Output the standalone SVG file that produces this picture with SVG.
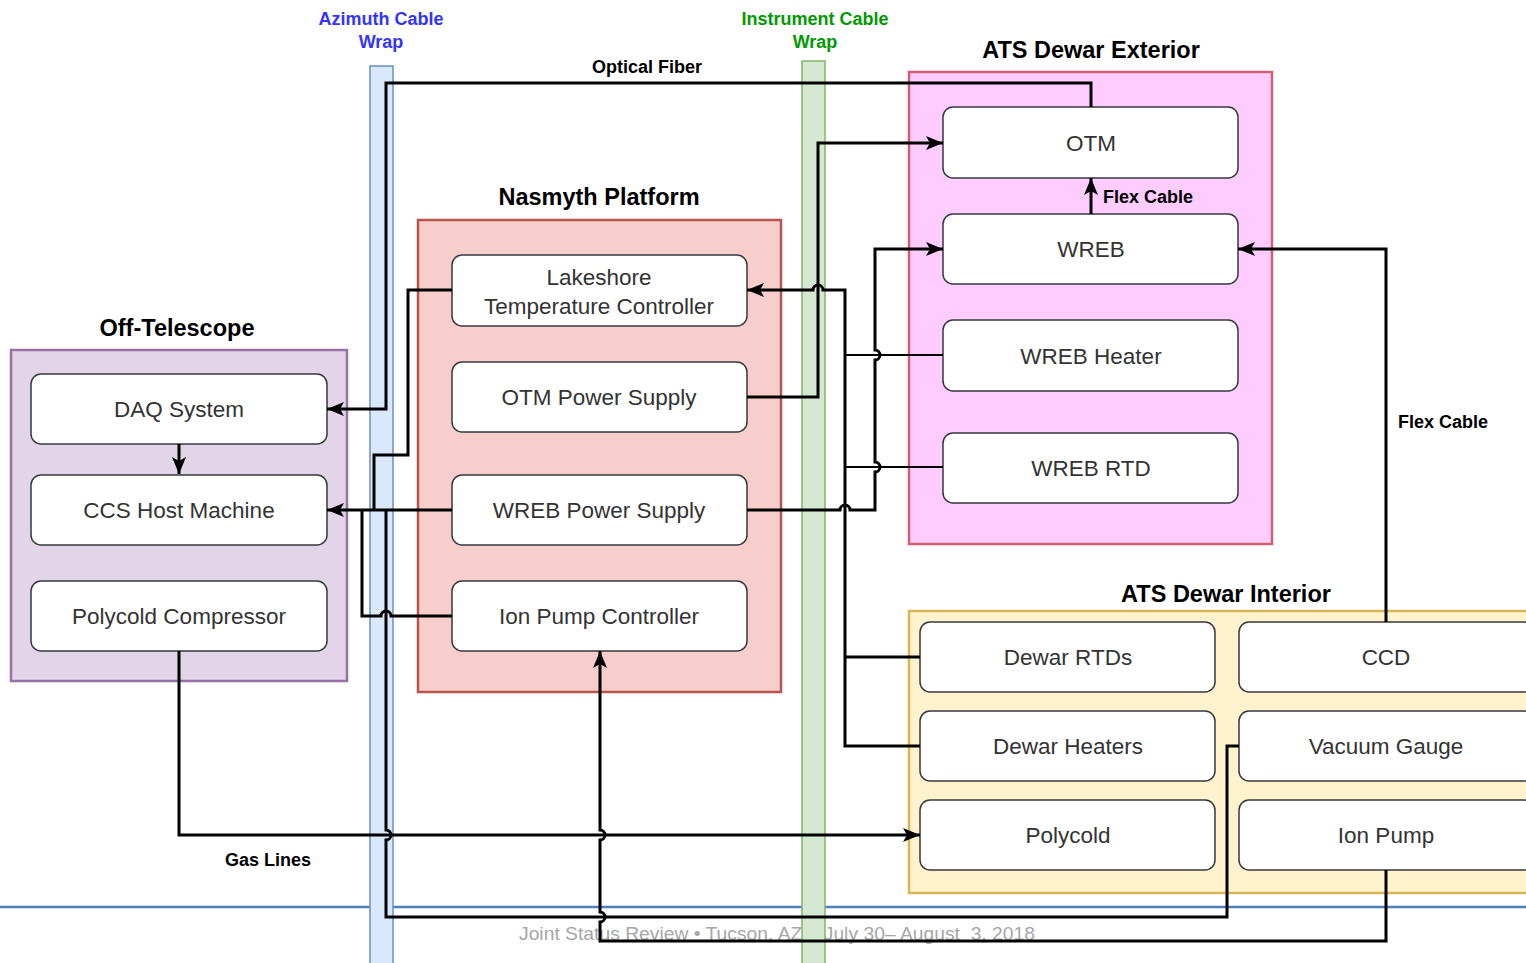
<svg xmlns="http://www.w3.org/2000/svg" width="1526" height="963" viewBox="0 0 1526 963">
<style>
.node rect{fill:#ffffff;stroke:#36393d;stroke-width:1.5}
.node text{font-family:"Liberation Sans",Arial,sans-serif;font-size:22.5px;fill:#333333;text-anchor:middle}
.title{font-family:"Liberation Sans",Arial,sans-serif;font-size:23.5px;font-weight:bold;fill:#000;text-anchor:middle}
.lbl{font-family:"Liberation Sans",Arial,sans-serif;font-size:18px;font-weight:bold;fill:#000;text-anchor:middle}
.conn path{fill:none;stroke:#000;stroke-width:3;stroke-linejoin:miter}
.conn path.thin{stroke-width:2}
</style>
<defs>
<marker id="arr" markerUnits="userSpaceOnUse" markerWidth="18" markerHeight="14" viewBox="0 0 18 14" refX="17" refY="7" orient="auto">
<path d="M0,0 L17,7 L0,14 L4,7 z" fill="#000"/>
</marker>
</defs>
<rect width="1526" height="963" fill="#ffffff"/>
<!-- footer -->
<line x1="0" y1="907" x2="1526" y2="907" stroke="#4f81bd" stroke-width="2.5"/>
<text x="777" y="940" font-family="Liberation Sans, Arial, sans-serif" font-size="19" fill="#a6a6a6" text-anchor="middle" textLength="516" lengthAdjust="spacingAndGlyphs" xml:space="preserve">Joint Status Review • Tucson, AZ    July 30– August  3, 2018</text>
<!-- cable wraps -->
<g id="azimuth-wrap">
<rect x="370" y="66" width="23" height="900" fill="#dae8fc" stroke="#6c8ebf" stroke-width="1.5"/>
<text class="lbl" x="381" y="25" fill="#3333ff" style="fill:#3333ff">Azimuth Cable</text>
<text class="lbl" x="381" y="48" style="fill:#3333ff">Wrap</text>
</g>
<g id="instrument-wrap">
<rect x="802" y="61" width="23" height="905" fill="#d5e8d4" stroke="#82b366" stroke-width="1.5"/>
<text class="lbl" x="815" y="25" style="fill:#009900">Instrument Cable</text>
<text class="lbl" x="815" y="48" style="fill:#009900">Wrap</text>
</g>
<!-- containers -->
<g id="off-telescope">
<rect x="11" y="350" width="336" height="331" fill="#e1d5e7" stroke="#9673a6" stroke-width="2.5"/>
<text class="title" x="177" y="336">Off-Telescope</text>
</g>
<g id="nasmyth">
<rect x="418" y="220" width="363" height="472" fill="#f8cecc" stroke="#b85450" stroke-width="2.5"/>
<text class="title" x="599" y="205">Nasmyth Platform</text>
</g>
<g id="dewar-exterior">
<rect x="909" y="72" width="363" height="472" fill="#ffccff" stroke="#d06070" stroke-width="2.5"/>
<text class="title" x="1091" y="58">ATS Dewar Exterior</text>
</g>
<g id="dewar-interior">
<rect x="909" y="611" width="630" height="282" fill="#fff2cc" stroke="#d6b656" stroke-width="2.5"/>
<text class="title" x="1226" y="602">ATS Dewar Interior</text>
</g>
<!-- nodes -->
<g id="daq" class="node"><rect x="31" y="374" width="296" height="70" rx="10"/><text x="179" y="417">DAQ System</text></g>
<g id="ccs" class="node"><rect x="31" y="475" width="296" height="70" rx="10"/><text x="179" y="518">CCS Host Machine</text></g>
<g id="polycold-compressor" class="node"><rect x="31" y="581" width="296" height="70" rx="10"/><text x="179" y="624">Polycold Compressor</text></g>
<g id="lakeshore" class="node"><rect x="452" y="255" width="295" height="71" rx="10"/><text x="599" y="285">Lakeshore</text><text x="599" y="314">Temperature Controller</text></g>
<g id="otm-ps" class="node"><rect x="452" y="362" width="295" height="70" rx="10"/><text x="599" y="405">OTM Power Supply</text></g>
<g id="wreb-ps" class="node"><rect x="452" y="475" width="295" height="70" rx="10"/><text x="599" y="518">WREB Power Supply</text></g>
<g id="ion-pump-controller" class="node"><rect x="452" y="581" width="295" height="70" rx="10"/><text x="599" y="624">Ion Pump Controller</text></g>
<g id="otm" class="node"><rect x="943" y="107" width="295" height="71" rx="10"/><text x="1091" y="151">OTM</text></g>
<g id="wreb" class="node"><rect x="943" y="214" width="295" height="70" rx="10"/><text x="1091" y="257">WREB</text></g>
<g id="wreb-heater" class="node"><rect x="943" y="320" width="295" height="71" rx="10"/><text x="1091" y="364">WREB Heater</text></g>
<g id="wreb-rtd" class="node"><rect x="943" y="433" width="295" height="70" rx="10"/><text x="1091" y="476">WREB RTD</text></g>
<g id="dewar-rtds" class="node"><rect x="920" y="622" width="295" height="70" rx="10"/><text x="1068" y="665">Dewar RTDs</text></g>
<g id="dewar-heaters" class="node"><rect x="920" y="711" width="295" height="70" rx="10"/><text x="1068" y="754">Dewar Heaters</text></g>
<g id="polycold" class="node"><rect x="920" y="800" width="295" height="70" rx="10"/><text x="1068" y="843">Polycold</text></g>
<g id="ccd" class="node"><rect x="1239" y="622" width="295" height="70" rx="10"/><text x="1386" y="665">CCD</text></g>
<g id="vacuum-gauge" class="node"><rect x="1239" y="711" width="295" height="70" rx="10"/><text x="1386" y="754">Vacuum Gauge</text></g>
<g id="ion-pump" class="node"><rect x="1239" y="800" width="295" height="70" rx="10"/><text x="1386" y="843">Ion Pump</text></g>
<!-- connectors -->
<g id="connectors" class="conn">
<path d="M1091,107 V83 H386 V409 H327" marker-end="url(#arr)"/>
<path d="M179,444 V474" marker-end="url(#arr)"/>
<path d="M452,290 H408 V455 H374 V510"/>
<path d="M452,510 H327" marker-end="url(#arr)"/>
<path d="M452,616 H391 a5,5 0 0 0 -10,0 H362 V510"/>
<path d="M1239,746 H1227 V917 H386 V840 a5,5 0 0 0 0,-10 V510"/>
<path d="M179,651 V835 H920" marker-end="url(#arr)"/>
<path d="M1386,870 V941 H600 V922 a5,5 0 0 0 0,-10 V840 a5,5 0 0 0 0,-10 V651" marker-end="url(#arr)"/>
<path d="M747,397 H818 V143 H943" marker-end="url(#arr)"/>
<path d="M920,746 H845 V290 H823 a5,5 0 0 0 -10,0 H747" marker-end="url(#arr)"/>
<path d="M920,657 H845"/>
<path class="thin" d="M943,355 H845"/>
<path class="thin" d="M943,467 H845"/>
<path d="M747,510 H840 a5,5 0 0 1 10,0 H875 V472 a5,5 0 0 0 0,-10 V360 a5,5 0 0 0 0,-10 V249 H943" marker-end="url(#arr)"/>
<path d="M1386,622 V249 H1238" marker-end="url(#arr)"/>
<path d="M1091,214 V178" marker-end="url(#arr)"/>
<text class="lbl" x="647" y="73">Optical Fiber</text>
<text class="lbl" x="1103" y="203" style="text-anchor:start">Flex Cable</text>
<text class="lbl" x="1443" y="428">Flex Cable</text>
<text class="lbl" x="268" y="866">Gas Lines</text>
</g>
</svg>
